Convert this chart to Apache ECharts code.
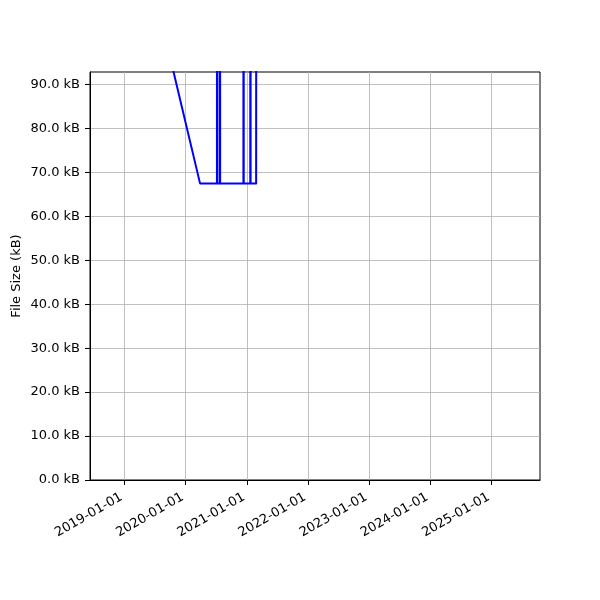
<!DOCTYPE html>
<html>
<head>
<meta charset="utf-8">
<script src="https://cdn.jsdelivr.net/npm/echarts@6/dist/echarts.min.js"></script>
<style>
  html, body { margin: 0; padding: 0; background: #fff; }
  #chart1 { width: 600px; height: 600px; }
</style>
</head>
<body>
<div id="chart1"></div>
<script>
// file size history (kB)
const fechas = ['2018-10-10', '2020-03-28', '2020-07-07', '2020-07-08', '2020-07-09',
  '2020-07-24', '2020-07-25', '2020-07-26', '2020-12-12', '2020-12-13', '2020-12-14',
  '2021-01-22', '2021-01-23', '2021-01-24', '2021-02-26', '2021-02-27', '2023-04-15', '2025-06-18'];
const tamanos = [153.3, 67.5, 67.5, 412.6, 67.5,
  67.5, 398.1, 67.5, 67.5, 405.9, 67.5,
  67.5, 401.2, 67.5, 67.5, 168.4, 170.2, 171.0];

const ticksX = ['2019-01-01', '2020-01-01', '2021-01-01', '2022-01-01', '2023-01-01', '2024-01-01', '2025-01-01'];
const ticksY = [0, 10, 20, 30, 40, 50, 60, 70, 80, 90];

const fuente = 'DejaVu Sans';

// 'yyyy-mm-dd' -> ms (UTC)
const aMs = (s) => Date.parse(s + 'T00:00:00Z');
const aTexto = (ms) => new Date(ms).toISOString().slice(0, 10);

const getOptionChart1 = () => {
  return {
    animation: false,
    grid: {
      left: 90, right: 60, top: 72, bottom: 120,
      outerBoundsMode: 'none',
      containLabel: false,
      show: true, borderColor: '#000', borderWidth: 1, backgroundColor: 'transparent'
    },
    xAxis: {
      type: 'value',
      min: aMs('2018-06-10'),
      max: aMs('2025-10-18'),
      axisLine: { lineStyle: { color: '#000', width: 1 } },
      axisTick: { show: true, length: 5, lineStyle: { color: '#000' }, customValues: ticksX.map(aMs) },
      axisLabel: {
        customValues: ticksX.map(aMs),
        rotate: 30,
        margin: 7,
        align: 'right',
        verticalAlign: 'top',
        padding: [0, 7, 0, 0],
        color: '#000',
        fontFamily: fuente,
        fontSize: 13,
        formatter: (v) => aTexto(v)
      },
      splitLine: { show: true, lineStyle: { color: '#b0b0b0', width: 0.8 } }
    },
    yAxis: {
      type: 'value',
      min: 0,
      max: 92.85,
      name: 'File Size (kB)',
      nameLocation: 'middle',
      nameRotate: 90,
      nameGap: 67,
      nameMoveOverlap: false,
      nameTextStyle: { color: '#000', fontFamily: fuente, fontSize: 13 },
      axisLine: { show: true, lineStyle: { color: '#000', width: 1 } },
      axisTick: { show: true, length: 5, lineStyle: { color: '#000' }, customValues: ticksY },
      axisLabel: {
        customValues: ticksY,
        margin: 10,
        padding: [2, 0, 0, 0],
        color: '#000',
        fontFamily: fuente,
        fontSize: 13,
        formatter: (v) => v.toFixed(1) + ' kB'
      },
      splitLine: { show: true, lineStyle: { color: '#b0b0b0', width: 0.8 } }
    },
    series: [
      {
        type: 'line',
        data: fechas.map((f, i) => [aMs(f), tamanos[i]]),
        showSymbol: false,
        symbol: 'none',
        clip: true,
        lineStyle: { color: '#0000ff', width: 2, join: 'round' }
      }
    ]
  };
};

const initCharts = () => {
  const chart1 = echarts.init(document.querySelector('#chart1'));
  chart1.setOption(getOptionChart1());
};

initCharts();
</script>
</body>
</html>
